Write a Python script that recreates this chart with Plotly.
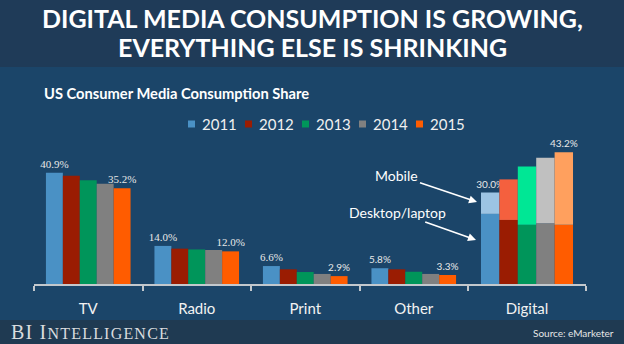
import plotly.graph_objects as go

# ---------------- data ----------------
years = ["2011", "2012", "2013", "2014", "2015"]
categories = ["TV", "Radio", "Print", "Other"]
tv = [40.9, 39.8, 38.1, 36.9, 35.2]
radio = [14.0, 13.0, 12.7, 12.5, 12.0]
print_media = [6.6, 5.4, 4.4, 3.7, 2.9]
other = [5.8, 5.4, 4.5, 3.7, 3.3]
digital_category = ["Digital"]
digital_desktop = [23.0, 21.0, 19.4, 19.9, 19.4]
digital_mobile = [7.0, 13.3, 19.1, 21.5, 23.8]
labelled_years = ["2011", "2015"]
title_lines = ["DIGITAL MEDIA CONSUMPTION IS GROWING,", "EVERYTHING ELSE IS SHRINKING"]

# ---------------- style ----------------
year_colors = ["#4a91c5", "#9a1c02", "#00955a", "#808080", "#ff5c00"]
mobile_colors = ["#9cc4e3", "#f4603e", "#00e795", "#c0c0c0", "#ffa05e"]
body_bg = "#1b4569"
band_bg = "#1f3b58"
footer_bg = "#1f3a52"
axis_col = "#c3c8cd"
sans = "Lato"
serif = "Liberation Serif"
W, H = 624, 344

fig = go.Figure()

series = list(zip(tv, radio, print_media, other))
for i, yr in enumerate(years):
    vals = list(series[i])
    show_text = yr in labelled_years
    fams = [serif, serif, serif if i == 0 else sans, sans]
    sizes = [11, 11, 11 if i == 0 else 10, 10]
    fig.add_trace(go.Bar(
        x=categories, y=vals, name=yr, legendgroup=yr, offsetgroup=yr,
        marker=dict(color=year_colors[i], line=dict(width=0)),
        text=[f"{v:.1f}%" for v in vals] if show_text else None,
        textposition="outside", cliponaxis=False, constraintext="none",
        textfont=dict(family=fams, size=sizes, color="#e8e8e8"),
        xaxis="x", yaxis="y", hoverinfo="skip", showlegend=False,
    ))

for i, yr in enumerate(years):
    total = digital_desktop[i] + digital_mobile[i]
    fig.add_trace(go.Bar(
        x=digital_category, y=[digital_desktop[i]], name=yr, legendgroup=yr,
        offsetgroup=yr, showlegend=False,
        marker=dict(color=year_colors[i], line=dict(width=0)),
        xaxis="x2", yaxis="y2", hoverinfo="skip",
    ))
    fig.add_trace(go.Bar(
        x=digital_category, y=[digital_mobile[i]], base=[digital_desktop[i]],
        name=yr, legendgroup=yr, offsetgroup=yr, showlegend=False,
        marker=dict(color=mobile_colors[i], line=dict(width=0)),
        text=[f"{total:.1f}%"] if yr in labelled_years else None,
        textposition="outside", cliponaxis=False, constraintext="none",
        textfont=dict(family=sans, size=10, color="#e8e8e8"),
        xaxis="x2", yaxis="y2", hoverinfo="skip",
    ))

base_px, top_px = 284, 140
ydom = [1 - base_px / H, 1 - top_px / H]

xaxis_style = dict(
    type="category", showline=True, linecolor=axis_col, linewidth=1.5,
    ticks="outside", tickson="boundaries", ticklen=5, tickwidth=1.5,
    tickcolor=axis_col, showgrid=False, zeroline=False,
    tickfont=dict(family=sans, size=15, color="#f2f2f2"),
    ticklabelstandoff=10, fixedrange=True,
)

shapes = [
    dict(type="rect", xref="paper", yref="paper", x0=0, x1=1, y0=1 - 67 / H, y1=1,
         fillcolor=band_bg, line=dict(width=0), layer="below"),
    dict(type="rect", xref="paper", yref="paper", x0=0, x1=1, y0=0, y1=1 - 320 / H,
         fillcolor=footer_bg, line=dict(width=0), layer="below"),
]

annotations = [
    dict(text=title_lines[0], xref="paper", yref="paper", x=0.5, y=1 - 18.5 / H,
         xanchor="center", yanchor="middle", showarrow=False,
         font=dict(family=sans, size=25, color="#ffffff", weight="bold")),
    dict(text=title_lines[1], xref="paper", yref="paper", x=0.5, y=1 - 46.5 / H,
         xanchor="center", yanchor="middle", showarrow=False,
         font=dict(family=sans, size=25, color="#ffffff", weight="bold")),
    dict(text="<b>US Consumer Media Consumption Share</b>", xref="paper", yref="paper",
         x=42 / W, y=1 - 93 / H, xanchor="left", yanchor="middle", showarrow=False,
         font=dict(family=sans, size=14.7, color="#ffffff")),
    dict(text="<span style='letter-spacing:1.2px'>BI I<span style='font-size:16px'>NTELLIGENCE</span></span>",
         xref="paper", yref="paper",
         x=9 / W, y=1 - 332 / H, xanchor="left", yanchor="middle", showarrow=False,
         font=dict(family=serif, size=20, color="#d9dcdf")),
    dict(text="Source: eMarketer", xref="paper", yref="paper",
         x=616 / W, y=1 - 333 / H, xanchor="right", yanchor="middle", showarrow=False,
         font=dict(family=sans, size=10, color="#e6e6e6")),
    dict(text="Mobile", xref="paper", yref="paper", x=477 / W, y=1 - 202 / H,
         ax=-80, ay=-27, axref="pixel", ayref="pixel", showarrow=True,
         arrowhead=2, arrowsize=1, arrowwidth=1.6, arrowcolor="#ffffff",
         font=dict(family=sans, size=14, color="#ffffff")),
    dict(text="Desktop/laptop", xref="paper", yref="paper", x=476 / W, y=1 - 240 / H,
         ax=-79, ay=-28, axref="pixel", ayref="pixel", showarrow=True,
         arrowhead=2, arrowsize=1, arrowwidth=1.6, arrowcolor="#ffffff",
         font=dict(family=sans, size=14, color="#ffffff")),
]

# legend (keys + labels), laid out in a row
leg_x0, leg_pitch, leg_y, sq = 188, 57, 124, 7
for i, yr in enumerate(years):
    x_sq = leg_x0 + i * leg_pitch
    shapes.append(dict(type="rect", xref="paper", yref="paper",
                       x0=x_sq / W, x1=(x_sq + sq) / W,
                       y0=1 - (leg_y + sq / 2) / H, y1=1 - (leg_y - sq / 2) / H,
                       fillcolor=year_colors[i], line=dict(width=0)))
    annotations.append(dict(text=yr, xref="paper", yref="paper",
                            x=(x_sq + sq + 5) / W, y=1 - leg_y / H,
                            xanchor="left", yanchor="middle", showarrow=False,
                            font=dict(family=sans, size=15, color="#f0f0f0")))

fig.update_layout(
    width=W, height=H, autosize=False,
    margin=dict(l=0, r=0, t=0, b=0),
    paper_bgcolor=body_bg, plot_bgcolor="rgba(0,0,0,0)",
    barmode="group", bargap=0.22, bargroupgap=0,
    xaxis=dict(domain=[34 / W, 468 / W], anchor="y", range=[-0.5, 3.5], **xaxis_style),
    yaxis=dict(domain=ydom, range=[0, 144 / 2.72], visible=False, anchor="x", fixedrange=True),
    xaxis2=dict(domain=[468 / W, 586 / W], anchor="y2", range=[-0.5, 0.5], **xaxis_style),
    yaxis2=dict(domain=ydom, range=[0, 144 / 3.05], visible=False, anchor="x2", fixedrange=True),
    showlegend=False,
    shapes=shapes,
    annotations=annotations,
)

fig.write_html("out.html")
